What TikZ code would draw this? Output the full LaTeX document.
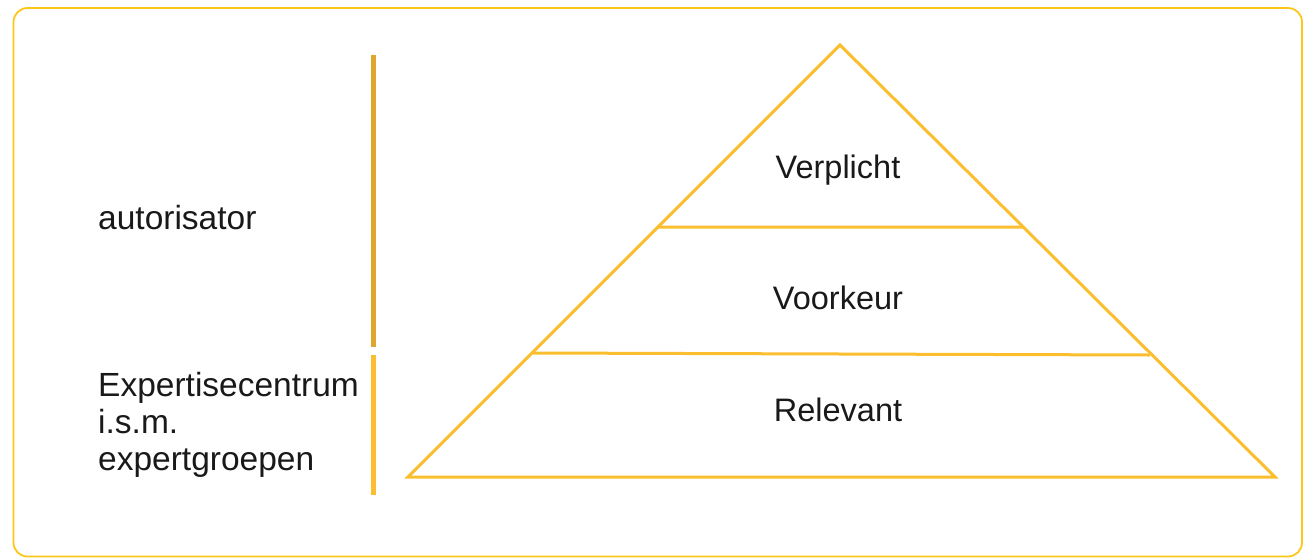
\documentclass[tikz,border=0pt]{standalone}
\usepackage{fontspec}
\setmainfont{Liberation Sans}
\definecolor{frame}{HTML}{FFC61A}
\definecolor{pyr}{HTML}{FBBE2E}
\definecolor{gold}{HTML}{DFA82C}
\tikzset{
	lbl/.style={font=\fontsize{32.5}{37}\selectfont, text=black!90, inner sep=0pt},
	side/.style={lbl, font=\fontsize{33.5}{37}\selectfont, anchor=base west, align=left},
	layer/.style={draw=pyr, line width=3pt}
}
\begin{document}
\begin{tikzpicture}[x=1pt,y=-1pt]
\useasboundingbox (0,0) rectangle (1307,558);
\draw[frame, line width=1.8pt, rounded corners=14pt] (13.5,8) rectangle (1302,556.5);

% pyramid
\coordinate (top) at (840,45);
\coordinate (bl) at (408,477);
\coordinate (br) at (1275,477);
\draw[layer, line join=miter] (top) -- (br) -- (bl) -- cycle;
\coordinate (a1) at (657,227);
\coordinate (a2) at (1023,227);
\coordinate (b1) at (533,353);
\coordinate (b2) at (1150,355);
\draw[layer] (a1) -- (a2) (b1) -- (b2);
\node[lbl] (verplicht) at (838,170) {Verplicht};
\node[lbl] (voorkeur) at (838,298) {Voorkeur};
\node[lbl] (relevant) at (838,410) {Relevant};

% roles
\draw[gold, line width=5pt] (373,55) -- (373,347);
\draw[pyr, line width=5pt] (373,355) -- (373,495);
\node[side] (autor) at (98,229) {autorisator};
\node[side] (expert) at (98,470) {Expertisecentrum\\i.s.m.\\expertgroepen};
\end{tikzpicture}
\end{document}
